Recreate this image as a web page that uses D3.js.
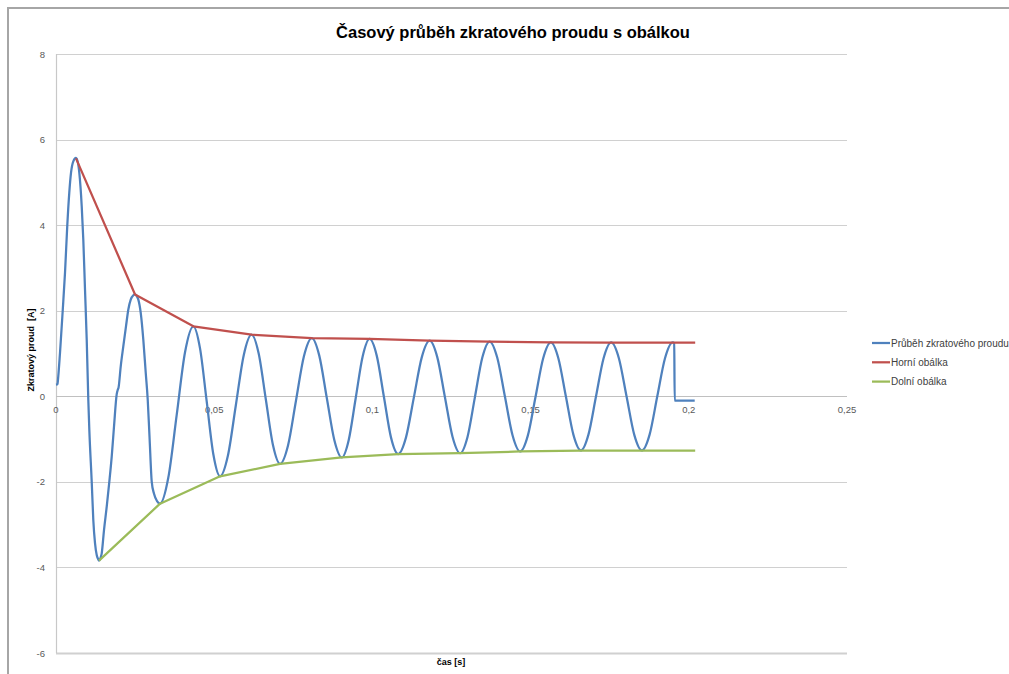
<!DOCTYPE html>
<html><head><meta charset="utf-8">
<script src="https://cdn.jsdelivr.net/npm/d3@7"></script>
<style>html,body{margin:0;padding:0;background:#fff;overflow:hidden}</style>
</head><body>
<svg id="c" width="1009" height="674"></svg>
<script>
// ---- data ----
const title = "Časový průběh zkratového proudu s obálkou";
const xTitle = "čas [s]";
const yTitle = "Zkratový proud  [A]";
const seriesNames = ["Průběh zkratového proudu", "Horní obálka", "Dolní obálka"];
const xTicks = [0, 0.05, 0.1, 0.15, 0.2, 0.25];
const xTickLabels = ["0", "0,05", "0,1", "0,15", "0,2", "0,25"];
const yTicks = [-6, -4, -2, 0, 2, 4, 6, 8];
const yTickLabels = ["-6", "-4", "-2", "0", "2", "4", "6", "8"];

const currentTime = [
  0, 0.00047, 0.00063, 0.00126, 0.00212, 0.00285, 0.00357, 0.00420, 0.00474, 0.00547,
  0.00632, 0.00696, 0.00737, 0.00813, 0.00863, 0.00917, 0.00971, 0.01021, 0.01053, 0.01129,
  0.01179, 0.01233, 0.01287, 0.01328, 0.01359, 0.01407, 0.01445, 0.01518, 0.01603, 0.01685,
  0.01761, 0.01834, 0.01919, 0.01951, 0.01976, 0.02046, 0.02128, 0.02213, 0.02286, 0.02362,
  0.02444, 0.02498, 0.02545, 0.02602, 0.02678, 0.02760, 0.02836, 0.02899, 0.02956, 0.03026,
  0.03098, 0.03193, 0.03288, 0.03550, 0.03814, 0.04078, 0.04341, 0.04552, 0.04763, 0.04974,
  0.05185, 0.05434, 0.05683, 0.05932, 0.06181, 0.06406, 0.06631, 0.06857, 0.07082, 0.07333,
  0.07583, 0.07834, 0.08084, 0.08321, 0.08558, 0.08796, 0.09033, 0.09252, 0.09472, 0.09692,
  0.09911, 0.10137, 0.10362, 0.10587, 0.10813, 0.11062, 0.11311, 0.11560, 0.11809, 0.12050,
  0.12291, 0.12532, 0.12773, 0.13006, 0.13239, 0.13472, 0.13705, 0.13947, 0.14188, 0.14429,
  0.14670, 0.14912, 0.15155, 0.15398, 0.15640, 0.15877, 0.16114, 0.16352, 0.16589, 0.16828,
  0.17068, 0.17307, 0.17547, 0.17790, 0.18032, 0.18275, 0.18517, 0.18761, 0.19004, 0.19248,
  0.19491, 0.19539, 0.19554, 0.20187
];
const currentValue = [
  0.27, 0.28, 0.39, 1.01, 2.00, 2.89, 4.00, 4.76, 5.22, 5.49,
  5.57, 5.45, 5.22, 4.44, 3.66, 2.49, 1.32, -0.08, -0.78, -2.00,
  -2.89, -3.43, -3.71, -3.80, -3.84, -3.78, -3.67, -3.12, -2.58, -2.00,
  -1.41, -0.70, 0.05, 0.15, 0.20, 0.70, 1.17, 1.64, 2.03, 2.26,
  2.36, 2.38, 2.35, 2.26, 1.95, 1.32, 0.55, -0.08, -0.95, -2.00,
  -2.28, -2.45, -2.51, -1.90, -0.44, 1.03, 1.635, 1.12, -0.12, -1.36,
  -1.87, -1.385, -0.215, 0.955, 1.44, 1.00, -0.07, -1.14, -1.58, -1.15,
  -0.11, 0.93, 1.36, 0.95, -0.035, -1.02, -1.43, -1.02, -0.045, 0.93,
  1.34, 0.95, -0.005, -0.96, -1.35, -0.96, -0.025, 0.91, 1.30, 0.915,
  -0.015, -0.945, -1.33, -0.95, -0.025, 0.90, 1.28, 0.90, -0.005, -0.91,
  -1.29, -0.92, -0.015, 0.89, 1.26, 0.89, 0.00, -0.895, -1.265, -0.895,
  0.00, 0.89, 1.26, 0.89, 0.00, -0.895, -1.265, -0.895, 0.00, 0.89,
  1.26, 1.24, -0.10, -0.10
];
const upperTime = [0.00632, 0.02498, 0.04341, 0.06181, 0.08084, 0.09911, 0.11809, 0.13705, 0.15640, 0.17547, 0.19491, 0.20202];
const upperValue = [5.56, 2.38, 1.635, 1.44, 1.36, 1.34, 1.30, 1.28, 1.26, 1.255, 1.255, 1.255];
const lowerTime = [0.01359, 0.03288, 0.05185, 0.07082, 0.09033, 0.10813, 0.12773, 0.14670, 0.16589, 0.18517, 0.20202];
const lowerValue = [-3.84, -2.51, -1.87, -1.58, -1.43, -1.35, -1.33, -1.29, -1.27, -1.27, -1.27];

const colors = ["#4F81BD", "#C0504D", "#9BBB59"];

// ---- drawing ----
const svg = d3.select("#c");
const x = d3.scaleLinear().domain([0, 0.25]).range([56, 847]);
const y = d3.scaleLinear().domain([-6, 8]).range([653, 54]);

// outer chart border
svg.append("rect").attr("x", 8).attr("y", 8).attr("width", 1020).attr("height", 690)
  .attr("fill", "none").attr("stroke", "#a6a6a6").attr("stroke-width", 2);

// title
svg.append("text").attr("x", 513).attr("y", 38).attr("text-anchor", "middle")
  .attr("font-family", "Liberation Sans, Arial, sans-serif").attr("font-weight", "bold")
  .attr("font-size", 16.5).attr("fill", "#000").text(title);

// gridlines
svg.append("g").selectAll("line").data(yTicks).join("line")
  .attr("x1", x(0)).attr("x2", x(0.25))
  .attr("y1", d => Math.round(y(d)) + 0.5).attr("y2", d => Math.round(y(d)) + 0.5)
  .attr("stroke", "#d0d0d0").attr("stroke-width", d => d === -6 ? 2 : 1.2);

// y axis line
svg.append("line").attr("x1", x(0) + 0.5).attr("x2", x(0) + 0.5)
  .attr("y1", y(8)).attr("y2", y(-6)).attr("stroke", "#c8c8c8").attr("stroke-width", 1.2);
// x axis line at 0
svg.append("line").attr("x1", x(0)).attr("x2", x(0.25))
  .attr("y1", Math.round(y(0)) + 0.5).attr("y2", Math.round(y(0)) + 0.5)
  .attr("stroke", "#c0c0c0").attr("stroke-width", 1.2);

const tickFont = "Liberation Sans, Arial, sans-serif";
// y tick labels
svg.append("g").selectAll("text").data(yTicks).join("text")
  .attr("x", 45).attr("y", d => y(d) + 3.5).attr("text-anchor", "end")
  .attr("font-family", tickFont).attr("font-size", 9.5).attr("fill", "#595959")
  .text((d, i) => yTickLabels[i]);
// x tick labels
svg.append("g").selectAll("text").data(xTicks).join("text")
  .attr("x", d => x(d)).attr("y", y(0) + 17).attr("text-anchor", "middle")
  .attr("font-family", tickFont).attr("font-size", 9.5).attr("fill", "#595959")
  .text((d, i) => xTickLabels[i]);

// axis titles
svg.append("text").attr("transform", "translate(34,350) rotate(-90)").attr("text-anchor", "middle")
  .attr("font-family", tickFont).attr("font-weight", "bold").attr("font-size", 9)
  .attr("fill", "#000").style("white-space", "pre").attr("xml:space", "preserve").text(yTitle);
svg.append("text").attr("x", 451).attr("y", 665).attr("text-anchor", "middle")
  .attr("font-family", tickFont).attr("font-weight", "bold").attr("font-size", 9)
  .attr("fill", "#000").text(xTitle);

// series
const current = currentTime.map((t, i) => [t, currentValue[i]]);
const upper = upperTime.map((t, i) => [t, upperValue[i]]);
const lower = lowerTime.map((t, i) => [t, lowerValue[i]]);

const smoothLine = d3.line().x(d => x(d[0])).y(d => y(d[1])).curve(d3.curveMonotoneX);
const straightLine = d3.line().x(d => x(d[0])).y(d => y(d[1]));

svg.append("path").datum(current).attr("d", smoothLine).attr("fill", "none")
  .attr("stroke", colors[0]).attr("stroke-width", 2.25).attr("stroke-linejoin", "round");
svg.append("path").datum(upper).attr("d", straightLine).attr("fill", "none")
  .attr("stroke", colors[1]).attr("stroke-width", 2.25).attr("stroke-linejoin", "round");
svg.append("path").datum(lower).attr("d", straightLine).attr("fill", "none")
  .attr("stroke", colors[2]).attr("stroke-width", 2.25).attr("stroke-linejoin", "round");

// legend
const lg = svg.append("g");
seriesNames.forEach((name, i) => {
  const ly = 343 + i * 19.3;
  lg.append("line").attr("x1", 872).attr("x2", 890).attr("y1", ly).attr("y2", ly)
    .attr("stroke", colors[i]).attr("stroke-width", 2.25);
  lg.append("text").attr("x", 891).attr("y", ly + 3.5)
    .attr("font-family", tickFont).attr("font-size", 10).attr("fill", "#404040").text(name);
});
</script>
</body></html>
